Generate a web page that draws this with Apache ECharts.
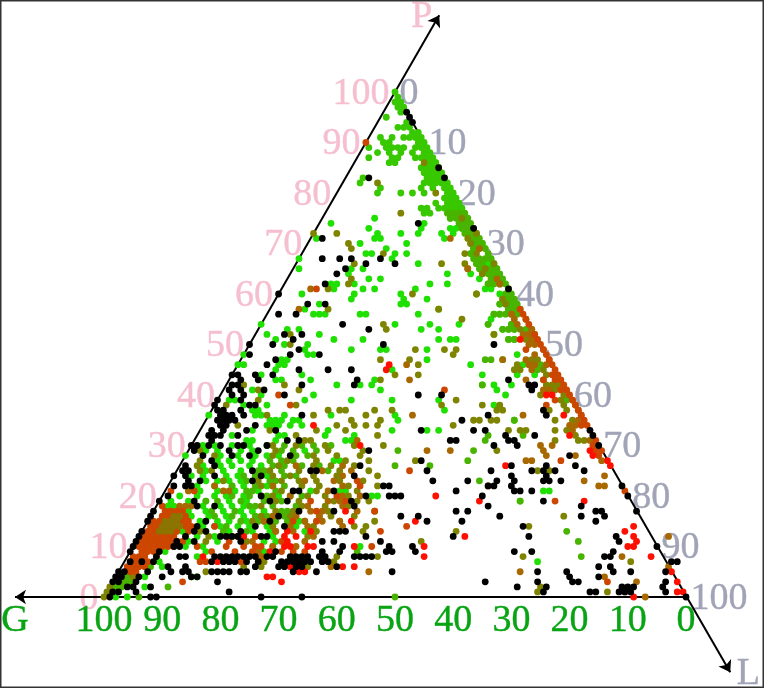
<!DOCTYPE html>
<html><head><meta charset="utf-8">
<style>html,body{margin:0;padding:0;background:#fff}#c{width:764px;height:689px}</style>
<script src="https://cdn.jsdelivr.net/npm/echarts@6/dist/echarts.min.js"></script>
</head><body><div id="c"></div>
<script>
// Each row: [P percent, [L percent values]]; G = 100 - P - L
const blackRows=[[0,[1,8,9,27,34,100]],[1,[1,2,5,21,83,84,88,89,90,75,96]],[2,[3,4,7,70,75,88,89,90,95]],[3,[0,1,4,18,64,73,79,80,95]],[4,[0,1,4,8,13,14,78,83]],[5,[0,1,5,9,11,12,16,17,18,19,21,22,30,34,47,72,77,85,88,94]],[6,[8,11,23,27,28,30,31,37,82,84]],[7,[1,3,5,15,17,18,19,21,23,27,28,29,30,31,32,34,35,94,95]],[8,[5,9,10,15,16,17,18,19,20,21,22,24,25,28,29,30,31,33,34,39,40,41,42,82,83]],[9,[0,5,25,33,36,44,45,49,66,69,83]],[10,[0,7,8,36,44,48,90]],[11,[0,7,10,18,32,34,42,83]],[12,[0,8,14,15,16,17,21,22,39,54,67,82]],[13,[0,9,11,17,33,34,35]],[14,[9,19,24,65]],[15,[0,10,21,48,54,77]],[16,[0,22,43,46,60,74,78]],[17,[0,25,31,52,54,76,77,83]],[18,[7,10,34,57,73]],[19,[0,6,19,22,33,66]],[20,[1,17,35,39,40,41,55,80]],[21,[22,23,29,50,60,61,63]],[22,[1,3,4,37,38,55,56,59,78]],[23,[3,5,14,45,51,56,59,64,65,67]],[24,[0,2,7,15,31,58,64]],[25,[1,2,13,23,24,43,54,61,63,65,70]],[26,[1,6,31,57,63,68]],[27,[5,41]],[28,[3,8,11,18,66]],[29,[1,7,12,31]],[30,[0,1,3,5,8,9,13,52,56,70]],[31,[3,16,18,44,45,54,55]],[32,[2,3,4,7,53,58,68]],[33,[2,4,8,13,38,47,49,67]],[34,[3,4,9]],[35,[2,3,4,5,44]],[36,[2,3,4,6,16,48,58]],[37,[1,2,5,57]],[38,[0,6,7]],[39,[0,4]],[40,[2,4,11,34,38]],[41,[1,3,7,53]],[42,[1,2,13,22,52,53]],[43,[2,5,22,48]],[44,[0,1,4,7]],[45,[11,16,20]],[46,[5]],[47,[6]],[48,[1,8,13]],[49,[9]],[50,[0,4,23,42]],[51,[7]],[52,[5,8]],[53,[19]],[54,[14]],[56,[2,5]],[58,[6,9]],[60,[0]],[61,[39]],[62,[7]],[64,[8]],[65,[9]],[66,[12,17]],[67,[4,7,9,14]],[71,[2]],[73,[27]],[74,[17]],[83,[4,17]],[85,[15]],[94,[6]],[95,[5]],[96,[4]]];
const greenRows=[[0,[2,4]],[2,[6]],[4,[5,13,14]],[6,[7]],[7,[6,71]],[8,[12]],[9,[6,13,23]],[10,[9,12,24,39]],[11,[9,14,22,24]],[12,[10,13,20,23]],[13,[7,11,15,19,22,28]],[14,[10,13,16,18,21,26]],[15,[9,12,14,17,20,26]],[16,[7,10,13,16]],[17,[4,6,9,12,15,17,19]],[18,[2,3,8,11,13,15]],[19,[2,5,8,12,15,62]],[20,[3,6,9,11,14,20,36,37]],[21,[6,9,12,16,25,30,31,65,66]],[22,[5,8,11,13,17]],[23,[6,8,10,12]],[24,[3,5,9,11,14,16]],[25,[5,8,11]],[26,[4,7,9,12,14]],[27,[6,8,10,12,26,27]],[28,[0,6,9,12,14,16]],[29,[3,5,9,11,20]],[30,[2,4,7,10,13]],[31,[9,10,14,26,27]],[32,[6,14,15,22,27]],[33,[9,22,33,39,41]],[34,[11,12,13,15,17]],[35,[11,12,13,15,16,33,53]],[36,[0,8,9,13,21,32]],[37,[7,8,40]],[38,[5,9,48]],[39,[2,3,15,23,30,38]],[40,[7,16,49]],[41,[5,27,47]],[42,[19,23,25,44,46,49]],[43,[8,9,14,25]],[44,[5,12,43,49,52]],[45,[7,27]],[46,[0,1,7,8,40,49]],[47,[7,8,32,45]],[48,[0,11,12,47]],[49,[10,18,23,24,31]],[50,[6,10]],[51,[4,14,19,32,34,35,44,45]],[52,[2,11,41]],[53,[5,7,28,31,42,43,44]],[54,[0,23,29,34,39,43]],[55,[39]],[56,[8,9,10,16,17,26,39,40]],[57,[6,29,41]],[58,[8,22,23,39]],[59,[13,22,26]],[60,[4,13,21,38]],[61,[9,14,16,23,35,36]],[62,[8,9,12,25,28,35]],[63,[14,16,33]],[64,[10,27,31]],[65,[1,10,12,34,35]],[66,[21,31,33]],[67,[0,16,33]],[68,[11,12,16,18,29]],[69,[14,29,31]],[70,[9,17,30]],[71,[1,11,12,23]],[72,[11,15,18,22,24]],[73,[9,18,23,24,25]],[74,[2,18]],[75,[9,22]]];
const topGreenRows=[[76,[17,18]],[77,[16,17,19,20,21]],[78,[18,20,21]],[80,[7,11,13,15,19]],[81,[7,14,16,18]],[82,[3,14,15,16,17]],[83,[3,14,15,16]],[84,[14,15,16,13]],[85,[13,14,12]],[86,[6,7,13,14]],[87,[2,6,7,10,11]],[88,[3,5,7,9,11]],[89,[1,4,5,6,7,9,10]],[90,[3,4,9]],[91,[2,4,6,7,8]],[93,[4,5,6]],[95,[1]],[99,[1]],[100,[0]],[98,[2,1]],[97,[3,2]],[96,[3]],[94,[5]],[92,[8,7]],[91,[9]],[90,[10]],[89,[11]],[88,[12]],[87,[13,12]],[86,[14]],[85,[15]],[84,[16]],[83,[17]],[82,[18]],[81,[19]],[80,[20]],[79,[21,20,19]],[78,[22]],[77,[23,22]]];
const limeRows=[[0,[6,50]],[2,[1,2,10]],[3,[2,3]],[4,[2,3]],[6,[5]],[8,[78]],[9,[22,39]],[11,[76]],[12,[16]],[13,[6,8,14,18,73]],[14,[12,14,22]],[15,[16,19,22,24]],[16,[11,14,18,20,23]],[17,[10,14,22,23]],[18,[16,17,20,24]],[19,[8,10,14,18,21,62]],[20,[12,15,18,22,24]],[21,[14,15,19]],[22,[11,15,18,20]],[23,[13,17,18,53]],[24,[12,14,19,21]],[25,[14,15,18,26]],[26,[16,18,21,24,37,43]],[27,[15,17,19,49]],[28,[19,21]],[29,[16,18,22,36,49]],[30,[16,19,21,24]],[31,[50]],[32,[50,56]],[35,[53]],[39,[60]],[42,[44]],[43,[54]],[45,[52]],[46,[52]],[47,[42,43]],[51,[44,45]],[52,[47,48]],[53,[42,43,44,46]],[54,[39,43]],[55,[45]],[56,[41,39,40,43]],[57,[41,42,43]],[58,[41,42,39,40]],[59,[39,40,41]],[60,[40,34,39]],[61,[39]],[62,[38,37,36,35]],[63,[37,35,36]],[64,[36,35,34,33]],[65,[35,34,33,32]],[66,[34,32,31]],[67,[33,32,31,30]],[68,[32,29]],[69,[31,30,29]],[70,[30,29,28]],[71,[29,28]],[72,[28,27,26]],[73,[27,26,25]],[74,[26,25,24]],[75,[25,24,23,22]],[76,[24,23,22,21]]];
const oliveRows=[[0,[0]],[1,[0,86,74]],[2,[0,74]],[4,[3]],[5,[15]],[6,[21,24,32]],[7,[24,36,87]],[8,[23,36,43,68]],[11,[12,19,49]],[12,[12,29]],[13,[10,23,30,38,54]],[14,[22,29,36,38,66]],[15,[18,27,33,39]],[16,[19,24,29,31,35,71]],[17,[21,24,30,38]],[18,[18,25,29,33]],[19,[20,24,30,34,36]],[20,[19,25,28,32]],[21,[20,26,33]],[22,[16,23,26,31,36]],[23,[9,15,19,22,25,29,33]],[24,[17,20,24,28,35]],[25,[4,6,16,21,28,33,62,64]],[26,[3,17,23,26,30]],[27,[3,18,23,28,32,40]],[28,[5,15,22,26,30]],[29,[2,15,24,30,53]],[30,[14,18,23,28,33]],[31,[19,20,62,66,67]],[32,[17,31,65]],[33,[12,20,25,53,55,56,61,63]],[34,[6,23,26,28,30,43]],[35,[25,30,46,47,49,50,60,63]],[36,[10,18,27]],[37,[20,22,23,28,31,49,50,58,61,63]],[38,[2,14,39,46,49,60,62]],[39,[7,41,59]],[40,[55,59]],[41,[6,13,57]],[42,[3,10,55,56,57]],[43,[26]],[44,[28,32,54]],[45,[48,49,53]],[46,[31,48]],[47,[24,29,50,51]],[48,[36]],[49,[29,34,36]],[50,[7]],[51,[47]],[52,[6,41]],[53,[22,45,47]],[54,[21]],[55,[34]],[56,[42]],[57,[10,29]],[58,[40]],[59,[39]],[60,[23,34]],[61,[8]],[62,[11,37]],[63,[11]],[64,[33]],[65,[33,30]],[66,[10,25,29,34]],[68,[28,30,14]],[69,[8]],[70,[7,28]],[71,[27]],[72,[0,4,28]],[75,[24]],[76,[13]],[80,[17]],[82,[6]],[86,[12]]];
const brownRows=[[0,[93]],[1,[89]],[3,[90]],[4,[84]],[5,[43,69]],[6,[36,94]],[8,[85,23]],[9,[22]],[10,[24,28]],[11,[20,29]],[12,[30,91]],[13,[4,23,26]],[14,[25,28,34]],[15,[20,27,30,33]],[16,[21,25,29]],[17,[3,27,29,35]],[18,[4,5,6,26,32]],[19,[29,31]],[20,[22,31,34]],[21,[4,10,11,28]],[22,[8,18,30,74,75]],[23,[23,28,71]],[24,[29,74]],[25,[25,30]],[26,[20,28]],[27,[59,60,72]],[28,[62,67]],[29,[41,45,61]],[30,[60,62]],[31,[28,68]],[33,[64]],[34,[63,64]],[35,[64]],[36,[35,54,64]],[39,[61]],[41,[55,56]],[43,[31,51]],[45,[51]],[46,[29,50,51,53]],[47,[45,49,53]],[48,[50]],[49,[51]],[50,[48,49]],[51,[48]],[52,[46,47]],[53,[47]],[54,[44]],[55,[43]],[56,[42]],[57,[5]],[61,[5]],[62,[37]],[63,[36]],[65,[30]],[69,[30]],[71,[24]]];
const rustRows=[[3,[12,85]],[5,[2,3]],[6,[1,2,3,4]],[7,[1,2,3,4,13,14,20,23]],[8,[1,2,3,5]],[9,[2,3,4,14,18,21,26,28,30]],[10,[1,2,3,4,5,6,7,11,16,19,21,22,41]],[11,[1,2,3,4,5,6,7,8,16,25]],[12,[1,2,3,4,5,6,17,20]],[13,[1,2,3,4,5,6,8,41]],[14,[1,2,3,4,7,8,12,45]],[15,[1,2,3,4,6,7,25,29]],[16,[2,3,4,6]],[17,[2,3,4,5,28,38]],[18,[1]],[19,[26,32,68]],[20,[30]],[21,[1,5,79]],[22,[33,55]],[23,[32]],[25,[40]],[27,[65]],[28,[71]],[29,[70,71]],[30,[69]],[31,[69]],[34,[65,66]],[35,[65]],[36,[64]],[37,[63]],[38,[13,57,62]],[39,[58,61]],[40,[10,60]],[41,[38,58,59]],[42,[58]],[43,[54,56,57]],[44,[55,56]],[45,[55]],[46,[54]],[47,[53]],[48,[52]],[49,[48,51]],[50,[50]],[51,[49]],[52,[48]],[54,[46]],[55,[45]],[56,[44]],[57,[43]],[61,[6]],[90,[0]]];
const clusterOliveRows=[[13,[3,4,5]],[14,[3,4,5,6]],[15,[3,4,5]],[16,[4,5]]];
const redRows=[[0,[91]],[1,[98,99]],[3,[29,97]],[4,[26,27]],[5,[31,32,95]],[6,[29,38,40,31]],[7,[16]],[8,[13,51,90]],[9,[24]],[10,[26,27,30,31,38,50,85,86]],[11,[26,86]],[12,[25,27,18,56,85]],[13,[25,29,83]],[14,[84]],[15,[35,46]],[17,[33]],[19,[55,73]],[20,[47]],[26,[56,74]],[27,[73]],[28,[70]],[29,[69]],[30,[29]],[32,[64]],[34,[19]],[36,[61]],[40,[56,57]],[45,[26]],[46,[26]],[51,[46]]];
const tickValues=[0,10,20,30,40,50,60,70,80,90,100];
const gTicks=[100,90,80,70,60,50,40,30,20,10,0];
const axisNames=['G','P','L'];
const rows2pts=r=>r.flatMap(([p,ls])=>ls.map(l=>[l+p/2,p]));
const FONT='"Liberation Serif"';
const PINK='#f6bfd0',GRAY='#a0a4b6',TXT='#08a414';
const dots=(name,rows,color)=>({name,type:'scatter',clip:false,data:rows2pts(rows),symbolSize:6.8,z:5,
  itemStyle:{color,opacity:1,borderWidth:0},silent:true});
const lab=(data,color,position,distance,fmt,dy)=>({type:'scatter',clip:false,data,symbolSize:1,z:2,silent:true,
  itemStyle:{color:'rgba(0,0,0,0)'},
  label:{show:true,position,distance,color,opacity:1,fontFamily:FONT,fontSize:38,formatter:fmt,offset:[0,dy],
    textBorderColor:color,textBorderWidth:0.4}});
const name=p=>p.name;
const chart=echarts.init(document.getElementById('c'),null,{renderer:'canvas'});
chart.setOption({animation:false,backgroundColor:'#fff',
 grid:{left:10.88,top:11.2,width:744.96,height:666.6,containLabel:false},
 xAxis:{type:'value',min:-16,max:112,show:false},
 yAxis:{type:'value',min:-16,max:116,show:false},
 graphic:[{type:'rect',silent:true,z:100,shape:{x:0.75,y:0.75,width:762.5,height:686.5},style:{fill:'none',stroke:'#333',lineWidth:1.5}}],
 series:[
  lab(tickValues.map(v=>({value:[v/2,v],name:String(v)})),PINK,'left',5,name,2),
  lab(tickValues.map(v=>({value:[100-(100-v)/2,100-v],name:String(v)})),GRAY,'right',4,name,2),
  lab(gTicks.map(v=>({value:[100-v,-4.2],name:String(v)})),TXT,'inside',0,name,3),
  lab([{value:[-15.3,-4.2],name:axisNames[0]}],TXT,'inside',0,name,3),
  lab([{value:[54.6,115.6],name:axisNames[1]}],PINK,'inside',0,name,4),
  lab([{value:[110.7,-14.9],name:axisNames[2]}],GRAY,'inside',0,name,2),
  {type:'scatter',data:[[0,0]],symbolSize:0,z:3,silent:true,
   markLine:{silent:true,animation:false,symbol:['none','arrow'],symbolSize:11,label:{show:false},z:3,
    lineStyle:{color:'#000',width:2,type:'solid'},
    data:[
     [{coord:[100,0]},{coord:[-15.3,0]}],
     [{coord:[0,0]},{coord:[57.6,115.2]}],
     [{coord:[50,100]},{coord:[107.6,-14.9]}]
    ]}},
  dots('green',greenRows,'#1fe000'),
  dots('topGreen',topGreenRows,'#38c800'),
  dots('lime',limeRows,'#48b400'),
  dots('olive',oliveRows,'#7f8400'),
  dots('brown',brownRows,'#a86800'),
  dots('rust',rustRows,'#cc4600'),
  dots('clusterOlive',clusterOliveRows,'#8c7400'),
  dots('red',redRows,'#ff0f00'),
  dots('black',blackRows,'#000')
 ]});
</script></body></html>
